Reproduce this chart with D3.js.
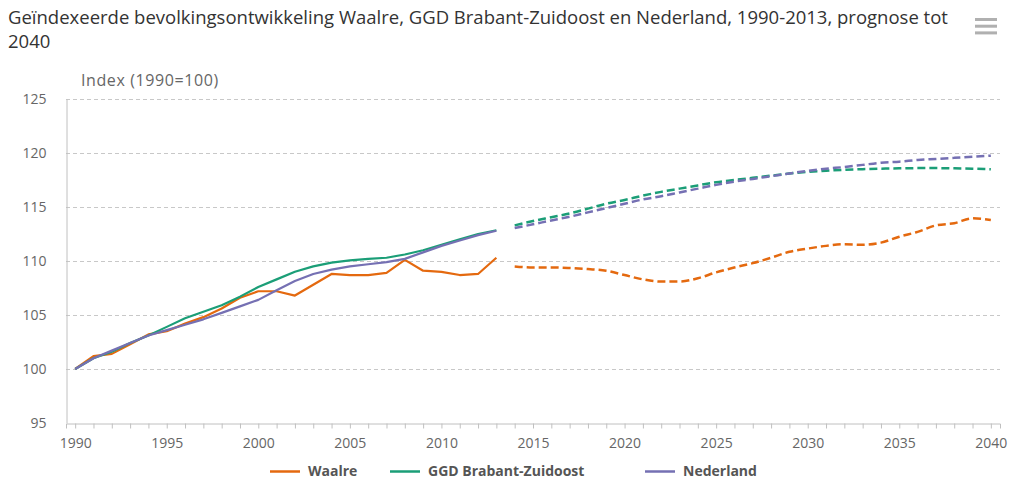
<!DOCTYPE html>
<meta charset="utf-8">
<body style="margin:0;background:#fff">
<script src="https://d3js.org/d3.v7.min.js"></script>
<script>

  // historical (1990-2013) and forecast (2014-2040) index values, 1990 = 100
  const histYears = d3.range(1990, 2014);
  const progYears = d3.range(2014, 2041);

  const waalreHist = [100, 101.2, 101.4, 102.3, 103.2, 103.5, 104.2, 104.8, 105.6, 106.6,
                      107.2, 107.2, 106.8, 107.8, 108.8, 108.7, 108.7, 108.9, 110.1, 109.1,
                      109.0, 108.7, 108.8, 110.3];
  const ggdHist    = [100, 101.0, 101.6, 102.4, 103.1, 103.9, 104.7, 105.3, 105.9, 106.7,
                      107.6, 108.3, 109.0, 109.5, 109.85, 110.05, 110.2, 110.3, 110.6, 111.0,
                      111.5, 112.0, 112.5, 112.85];
  const nlHist     = [100, 101.0, 101.7, 102.4, 103.1, 103.6, 104.1, 104.6, 105.2, 105.8,
                      106.4, 107.3, 108.15, 108.8, 109.2, 109.5, 109.7, 109.9, 110.2, 110.8,
                      111.4, 111.9, 112.4, 112.8];

  const waalreProg = [109.5, 109.4, 109.4, 109.35, 109.25, 109.1, 108.7, 108.3, 108.1, 108.1,
                      108.4, 108.95, 109.4, 109.8, 110.3, 110.85, 111.15, 111.4, 111.55, 111.5,
                      111.7, 112.25, 112.7, 113.3, 113.5, 113.95, 113.8];
  const ggdProg    = [113.3, 113.7, 114.05, 114.4, 114.85, 115.3, 115.65, 116.05, 116.4, 116.7,
                      117.0, 117.3, 117.5, 117.7, 117.9, 118.1, 118.25, 118.35, 118.45, 118.5,
                      118.55, 118.58, 118.6, 118.6, 118.58, 118.55, 118.5];
  const nlProg     = [113.05, 113.4, 113.75, 114.1, 114.5, 114.9, 115.3, 115.7, 116.0, 116.35,
                      116.7, 117.05, 117.35, 117.6, 117.85, 118.1, 118.35, 118.55, 118.7, 118.9,
                      119.1, 119.2, 119.35, 119.45, 119.55, 119.65, 119.75];

  const seriesNames = ["Waalre", "GGD Brabant-Zuidoost", "Nederland"];
  const colors = ["#e4690f", "#1b9e77", "#7570b3"];
  const yTicks = [95, 100, 105, 110, 115, 120, 125];

  const series = [
    {name: seriesNames[0], color: colors[0], hist: waalreHist, prog: waalreProg},
    {name: seriesNames[1], color: colors[1], hist: ggdHist, prog: ggdProg},
    {name: seriesNames[2], color: colors[2], hist: nlHist, prog: nlProg}
  ];

  const W = 1011, H = 479;
  const font = "'Open Sans', 'Noto Sans', sans-serif";

  const svg = d3.select("body").append("svg")
      .attr("width", W)
      .attr("height", H)
      .style("font-family", font);

  // title
  const title = svg.append("text")
      .attr("x", 8).attr("y", 24)
      .attr("fill", "#333")
      .style("font-size", "18.5px");
  title.append("tspan").attr("x", 8)
      .text("Geïndexeerde bevolkingsontwikkeling Waalre, GGD Brabant-Zuidoost en Nederland, 1990-2013, prognose tot");
  title.append("tspan").attr("x", 8).attr("dy", 24).text("2040");

  // menu icon
  svg.append("g").selectAll("rect")
      .data([0, 1, 2]).join("rect")
      .attr("x", 975).attr("y", d => 18 + d * 6.7)
      .attr("width", 22).attr("height", 3)
      .attr("fill", "#b0b0b0");

  const x = d3.scaleLinear().domain([1989.5, 2040.5]).range([66, 1000]);
  const y = d3.scaleLinear().domain([95, 125]).range([423, 99]);

  // grid
  svg.append("g").selectAll("line")
      .data(yTicks.filter(d => d > 95)).join("line")
      .attr("x1", 66).attr("x2", 1000)
      .attr("y1", d => Math.round(y(d)) + 0.5).attr("y2", d => Math.round(y(d)) + 0.5)
      .attr("stroke", "#c8c8c8")
      .attr("stroke-dasharray", "4,3");

  // y axis
  const yAxis = svg.append("g")
      .attr("transform", "translate(66.5,0)")
      .call(d3.axisLeft(y).tickValues(yTicks).tickSize(0).tickPadding(20));
  yAxis.select(".domain").attr("stroke", "#c0c0c0");
  yAxis.selectAll("text").attr("fill", "#666").style("font-size", "14px").style("font-family", font);

  svg.append("text")
      .attr("x", 81).attr("y", 86)
      .attr("fill", "#666")
      .style("font-size", "16px")
      .style("letter-spacing", "0.6px")
      .text("Index (1990=100)");

  // x axis
  const xAxis = svg.append("g")
      .attr("transform", "translate(0,423.5)")
      .call(d3.axisBottom(x)
        .tickValues(d3.range(1990, 2041))
        .tickSize(5)
        .tickPadding(10)
        .tickFormat(d => d % 5 === 0 ? d : ""));
  xAxis.select(".domain").attr("stroke", "#c0c0c0");
  xAxis.selectAll(".tick line").attr("stroke", "#c0c0c0");
  xAxis.selectAll("text").attr("fill", "#666").style("font-size", "14px").style("font-family", font);

  // lines
  const line = d3.line().x(d => x(d[0])).y(d => y(d[1]));
  const curved = d3.line().x(d => x(d[0])).y(d => y(d[1])).curve(d3.curveMonotoneX);
  const lines = svg.append("g").attr("fill", "none");
  series.forEach(s => {
    lines.append("path")
        .attr("d", line(histYears.map((yr, i) => [yr, s.hist[i]])))
        .attr("stroke", s.color)
        .attr("stroke-width", 2.2)
        .attr("stroke-linejoin", "round");
  });
  series.forEach(s => {
    lines.append("path")
        .attr("d", curved(progYears.map((yr, i) => [yr, s.prog[i]])))
        .attr("stroke", s.color)
        .attr("stroke-width", 2.5)
        .attr("stroke-dasharray", "8,4");
  });

  // legend
  const legendX = [270, 390, 645];
  const legend = svg.append("g").selectAll("g")
      .data(series).join("g")
      .attr("transform", (d, i) => "translate(" + legendX[i] + ",471)");
  legend.append("line")
      .attr("x1", 0).attr("x2", 30)
      .attr("y1", 0.5).attr("y2", 0.5)
      .attr("stroke", d => d.color)
      .attr("stroke-width", 2.5);
  legend.append("text")
      .attr("x", 38).attr("y", 5)
      .attr("fill", "#555")
      .style("font-size", "14px")
      .style("font-weight", "bold")
      .text(d => d.name);

</script>
</body>
